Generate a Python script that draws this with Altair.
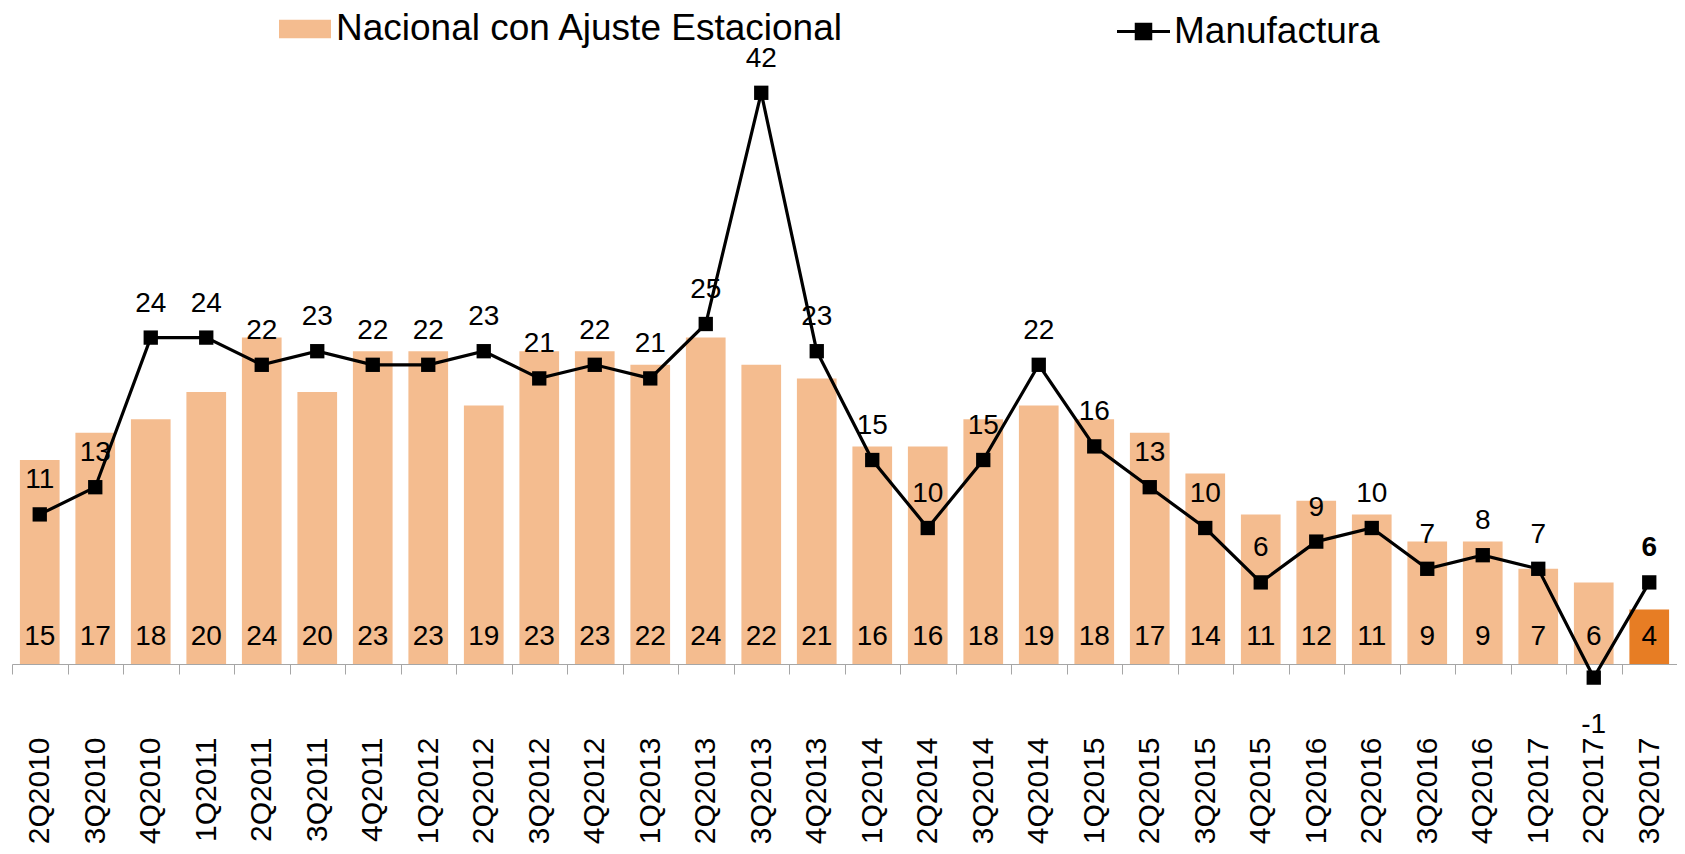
import altair as alt
import pandas as pd

categorias = ["2Q2010", "3Q2010", "4Q2010", "1Q2011", "2Q2011", "3Q2011", "4Q2011",
              "1Q2012", "2Q2012", "3Q2012", "4Q2012", "1Q2013", "2Q2013", "3Q2013",
              "4Q2013", "1Q2014", "2Q2014", "3Q2014", "4Q2014", "1Q2015", "2Q2015",
              "3Q2015", "4Q2015", "1Q2016", "2Q2016", "3Q2016", "4Q2016", "1Q2017",
              "2Q2017", "3Q2017"]
nacional = [15, 17, 18, 20, 24, 20, 23, 23, 19, 23, 23, 22, 24, 22, 21, 16, 16, 18,
            19, 18, 17, 14, 11, 12, 11, 9, 9, 7, 6, 4]
manufactura = [11, 13, 24, 24, 22, 23, 22, 22, 23, 21, 22, 21, 25, 42, 23, 15, 10, 15,
               22, 16, 13, 10, 6, 9, 10, 7, 8, 7, -1, 6]

NAC = "Nacional con Ajuste Estacional"
ULT = "Último trimestre"
MAN = "Manufactura"
ultimo = categorias[-1]

df = pd.DataFrame({
    "cat": categorias,
    "nac": nacional,
    "man": manufactura,
    "nac_txt": [str(v) for v in nacional],
    "man_txt": [str(v) for v in manufactura],
    "tipo": [ULT if c == ultimo else NAC for c in categorias],
    "serie": [MAN] * len(categorias),
})

LIGHT = "#F4BC8F"
DARK = "#E77D24"
GRAY = "#A6A6A6"
FONT = "Liberation Sans"

yscale = alt.Scale(domain=[0, 45], nice=False, zero=False)

xenc = alt.X(
    "cat:N",
    sort=categorias,
    scale=alt.Scale(paddingInner=0, paddingOuter=0),
    axis=alt.Axis(
        title=None, labelAngle=-90, labelFontSize=30, labelFont=FONT,
        labelColor="black", labelPadding=63, tickSize=10, tickBand="extent",
        tickColor=GRAY, domainColor=GRAY, domainWidth=1, tickWidth=1,
        grid=False, labelOverlap=False,
    ),
)

base = alt.Chart(df).encode(x=xenc)

bars = base.mark_bar(width=alt.RelativeBandSize(0.715)).encode(
    y=alt.Y("nac:Q", scale=yscale, axis=None),
    fill=alt.Fill(
        "tipo:N",
        scale=alt.Scale(domain=[NAC, ULT], range=[LIGHT, DARK]),
        legend=alt.Legend(
            title=None, values=[NAC], orient="none", legendX=267, legendY=-49,
            symbolType="M-1,-0.36H1V0.36H-1Z", symbolSize=2704,
            symbolStrokeWidth=0, labelFontSize=37, labelFont=FONT,
            labelColor="black", labelOffset=5, padding=0, labelLimit=900,
        ),
    ),
)

bar_labels = base.mark_text(
    baseline="alphabetic", dy=-19, fontSize=28, color="black", font=FONT
).encode(
    y=alt.Y(datum=0, scale=yscale, axis=None),
    text="nac_txt:N",
)

line = base.mark_line(strokeWidth=3.2).encode(
    y=alt.Y("man:Q", scale=yscale, axis=None),
    stroke=alt.Stroke(
        "serie:N",
        scale=alt.Scale(domain=[MAN], range=["black"]),
        legend=alt.Legend(
            title=None, orient="none", legendX=1103, legendY=-49,
            symbolType="M-1,0H1M-0.27,-0.27H0.27V0.27H-0.27Z", symbolSize=2809,
            symbolStrokeWidth=3.2, symbolFillColor="black",
            symbolStrokeColor="black",
            labelFontSize=37, labelFont=FONT, labelColor="black",
            labelOffset=2, padding=0, labelLimit=900,
        ),
    ),
)

points = base.mark_square(size=205, color="black", opacity=1, filled=True).encode(
    y=alt.Y("man:Q", scale=yscale, axis=None),
)

lab_up = base.transform_filter(
    (alt.datum.man >= 0) & (alt.datum.cat != ultimo)
).mark_text(
    baseline="alphabetic", dy=-26, fontSize=28, color="black", font=FONT
).encode(
    y=alt.Y("man:Q", scale=yscale, axis=None),
    text="man_txt:N",
)

lab_bold = base.transform_filter(
    alt.datum.cat == ultimo
).mark_text(
    baseline="alphabetic", dy=-26, fontSize=28, fontWeight="bold", color="black", font=FONT
).encode(
    y=alt.Y("man:Q", scale=yscale, axis=None),
    text="man_txt:N",
)

lab_down = base.transform_filter(
    alt.datum.man < 0
).mark_text(
    baseline="alphabetic", dy=55, fontSize=28, color="black", font=FONT
).encode(
    y=alt.Y("man:Q", scale=yscale, axis=None),
    text="man_txt:N",
)

chart = alt.layer(
    bars, bar_labels, line, points, lab_up, lab_bold, lab_down
).resolve_legend(
    fill="independent", stroke="independent"
).properties(
    width=1665,
    height=612,
    padding={"left": 4, "top": 44, "right": 0, "bottom": 182},
    autosize=alt.AutoSizeParams(type="none"),
).configure(
    font=FONT
).configure_view(
    strokeWidth=0
)

chart.save("out.html", embed_options={"renderer": "svg", "actions": False})
